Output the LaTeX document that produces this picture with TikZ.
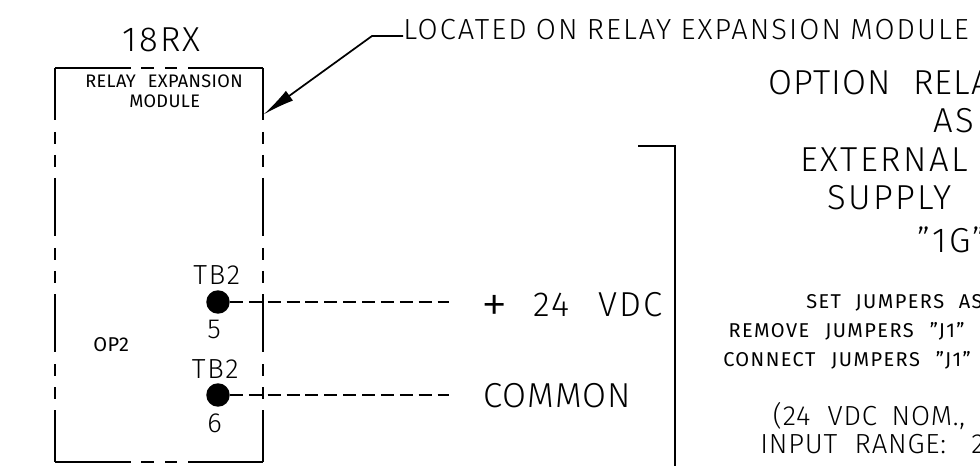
\documentclass[tikz,border=0pt]{standalone}
\usepackage{fontspec}
\setmainfont{Fira Sans Light}[LetterSpace=7]
\newfontfamily\heavyfont{Fira Sans}[LetterSpace=2]
\newfontfamily\heavywide{Fira Sans}[LetterSpace=7]
\newfontfamily\slimfont{Fira Sans Light}[LetterSpace=3]
\usetikzlibrary{arrows.meta}
\tikzset{
  lab/.style={inner sep=0pt, anchor=base west},
  big/.style={lab, font=\fontsize{26}{30}\selectfont},
  bigslim/.style={lab, font=\slimfont\fontsize{26}{30}\selectfont},
  mid/.style={lab, font=\fontsize{20.7}{24}\selectfont},
  midslim/.style={lab, font=\slimfont\fontsize{20.7}{24}\selectfont},
  small/.style={lab, font=\heavywide\fontsize{15}{17}\selectfont},
  tiny/.style={lab, font=\heavyfont\fontsize{13.6}{17}\selectfont},
  pin/.style={circle, fill=black, inner sep=0pt, minimum size=17.6pt},
  hside/.style={line width=1.3pt, dash pattern=on 57pt off 7.5pt on 9.75pt off 8.25pt on 9pt off 8.25pt},
  vside/.style={line width=1.3pt, dash pattern=on 43.5pt off 9pt on 9pt off 8.25pt on 9pt off 8.25pt, dash phase=4.5pt},
  wire/.style={line width=1.3pt, dash pattern=on 9.75pt off 4.4pt},
  leader/.style={line width=1.3pt, -{Latex[length=24pt,width=9pt]}}
}
\begin{document}
\begin{tikzpicture}[x=0.75pt,y=-0.75pt]
\clip (0,0) rectangle (980,466);
% module outline
\coordinate (tl) at (55,68);
\coordinate (tr) at (263,68);
\coordinate (br) at (263,462);
\coordinate (bl) at (55,462);
\draw[hside] (tl) -- (tr);
\draw[hside] (bl) -- (br);
\draw[vside] (tl) -- (bl);
\draw[vside] (tr) -- (br);
\node[big] (rxname) at (122,52) {18RX};
\node[tiny] (rxtitle) at (85,87.5) {RELAY\hspace{9pt}EXPANSION};
\node[tiny] (rxtitleb) at (129,107.5) {MODULE};
\node[lab, font=\heavyfont\fontsize{15}{18}\selectfont] (optwo) at (93,351.5) {OP2};
% terminals
\node[pin] (tfive) at (218,302) {};
\node[pin] (tsix) at (218,395) {};
\node[mid] (tbfive) at (193,284.7) {TB2};
\node[mid] (nfive) at (207,338) {5};
\node[mid] (tbsix) at (191.5,378) {TB2};
\node[mid] (nsix) at (207,432) {6};
\coordinate (endfive) at (449,302);
\coordinate (endsix) at (449,395);
\draw[wire] (tfive) -- (endfive);
\draw[wire] (tsix) -- (endsix);
\node[big] (vdc) at (481,316.5) {\raisebox{-4.6pt}{\fontsize{40}{40}\selectfont +}\hspace{19.5pt}24\hspace{21.5pt}VDC};
\node[bigslim] (common) at (483,407.3) {COMMON};
% note with arrow
\node[lab, font=\fontsize{21.8}{25}\selectfont] (located) at (403,40) {LOCATED\hspace{7pt}ON\hspace{7pt}RELAY\hspace{7pt}EXPANSION\hspace{7pt}MODULE};
\coordinate (elbow) at (372,36);
\coordinate (tip) at (263.5,114.5);
\draw[leader] (located.west |- elbow) -- (elbow) -- (tip);
% bracket
\coordinate (brka) at (638,146);
\coordinate (brkb) at (675,146);
\coordinate (brkc) at (675,466);
\draw[line width=1.3pt] (brka) -- (brkb) -- (brkc);
% option text, runs off the sheet
\node[bigslim] (opta) at (768,94.3) {OPTION\hspace{17pt}RELA};
\node[big] (optb) at (933,132.7) {AS};
\node[big] (optc) at (800,171.7) {EXTERNAL};
\node[big] (optd) at (827,210) {SUPPLY};
\node[big] (opte) at (917,253) {”1G”};
\node[small] (seta) at (806,308.3) {SET\hspace{11pt}JUMPERS\hspace{11pt}AS};
\node[small] (setb) at (728.3,337.3) {REMOVE\hspace{12pt}JUMPERS\hspace{12pt}”J1”};
\node[small] (setc) at (723,366.7) {CONNECT\hspace{12pt}JUMPERS\hspace{12pt}”J1”};
\node[midslim] (rnga) at (772.7,425.7) {(24\hspace{13pt}VDC\hspace{11pt}NOM.,};
\node[midslim] (rngb) at (760,453.3) {INPUT\hspace{13pt}RANGE:\hspace{19pt}2};
\end{tikzpicture}
\end{document}
